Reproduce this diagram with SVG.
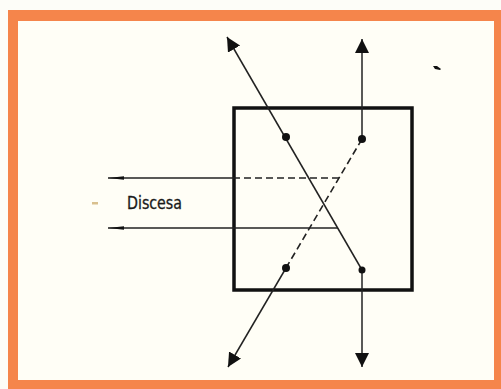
<svg xmlns="http://www.w3.org/2000/svg" width="501" height="389" viewBox="0 0 501 389">
<style>
.ln{stroke:#222;stroke-width:1.5;fill:none}
.ds{stroke:#222;stroke-width:1.6;fill:none;stroke-dasharray:7 4}
.dot{fill:#111}
.lbl{font-family:"DejaVu Sans Condensed","DejaVu Sans",sans-serif;font-size:17px;fill:#1a1a1a;stroke:#1a1a1a;stroke-width:0.3}
</style>
<defs>
<marker id="ah" markerUnits="userSpaceOnUse" markerWidth="16" markerHeight="16" refX="14" refY="7" orient="auto">
<path d="M0,0 L14,7 L0,14 Z" fill="#111"/>
</marker>
<marker id="ahs" markerUnits="userSpaceOnUse" markerWidth="18" markerHeight="6" refX="16" refY="2.5" orient="auto">
<path d="M0,0.7 L16,2.5 L0,4.3 Z" fill="#111"/>
</marker>
</defs>
<rect x="0" y="0" width="501" height="389" fill="#fdfdf8"/>
<path d="M8,10 H505 V393 H8 Z M18,21 V380 H494 V21 Z" fill="#f5854b" fill-rule="evenodd"/>
<rect x="18" y="21" width="476" height="359" fill="#fffef6"/>
<g id="box"><rect x="234" y="108" width="178" height="182" fill="none" stroke="#111" stroke-width="3.5"/></g>
<g id="connectors">
<line class="ln" x1="362" y1="270" x2="227" y2="37" marker-end="url(#ah)"/>
<line class="ln" x1="362" y1="139" x2="362" y2="39" marker-end="url(#ah)"/>
<line class="ln" x1="362" y1="270" x2="362" y2="367" marker-end="url(#ah)"/>
<line class="ds" x1="362" y1="139" x2="286" y2="268"/>
<line class="ln" x1="286" y1="268" x2="228" y2="367" marker-end="url(#ah)"/>
<line class="ds" x1="339" y1="178" x2="234" y2="178"/>
<line class="ln" x1="234" y1="178" x2="108" y2="178" marker-end="url(#ahs)"/>
<line class="ln" x1="338" y1="228" x2="108" y2="228" marker-end="url(#ahs)"/>
</g>
<g id="dots">
<circle class="dot" cx="286" cy="137" r="4"/>
<circle class="dot" cx="362" cy="139" r="4"/>
<circle class="dot" cx="286" cy="268" r="4"/>
<circle class="dot" cx="362" cy="270" r="3.5"/>
</g>
<g id="label">
<rect x="92" y="202" width="6" height="2.5" fill="#d9c08e"/>
<text class="lbl" x="127" y="209" textLength="55" lengthAdjust="spacingAndGlyphs">Discesa</text>
</g>
<path d="M433,66 L437,66 L441,69 L440,70 L435,69 Z" fill="#111"/>
</svg>
